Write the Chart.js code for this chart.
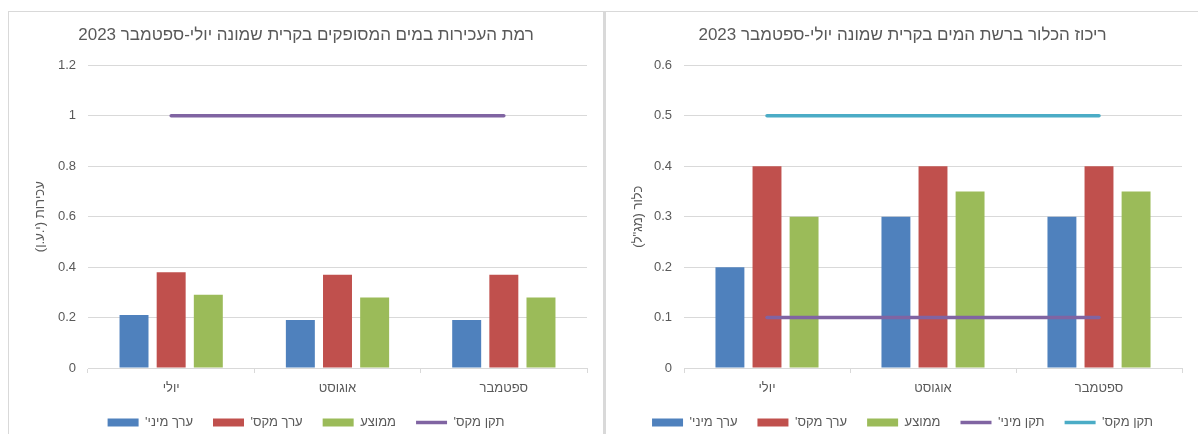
<!DOCTYPE html>
<html>
<head>
<meta charset="utf-8">
<script src="https://cdn.jsdelivr.net/npm/chart.js@4"></script>
<style>
  body { margin: 0; background: #fff; }
  .ln { position: absolute; background: #d9d9d9; }
  canvas { position: absolute; }
</style>
</head>
<body>
<div class="ln" style="left:8px;top:11px;width:1190px;height:1px"></div>
<div class="ln" style="left:8px;top:11px;width:1px;height:423px"></div>
<div class="ln" style="left:603px;top:11px;width:3px;height:423px"></div>
<canvas id="turb" dir="rtl" width="594" height="422" style="left:9px;top:12px"></canvas>
<canvas id="chl" dir="rtl" width="591" height="422" style="left:607px;top:12px"></canvas>
<script>
const months = ['יולי', 'אוגוסט', 'ספטמבר'];

// עכירות (י.ע.ן)
const turbMin = [0.21, 0.19, 0.19];
const turbMax = [0.38, 0.37, 0.37];
const turbAvg = [0.29, 0.28, 0.28];
const turbStdMax = [1, 1, 1];

// כלור (מג"ל)
const chlMin = [0.2, 0.3, 0.3];
const chlMax = [0.4, 0.4, 0.4];
const chlAvg = [0.3, 0.35, 0.35];
const chlStdMin = [0.1, 0.1, 0.1];
const chlStdMax = [0.5, 0.5, 0.5];

Chart.defaults.font.family = "'Liberation Sans', Arial, sans-serif";
Chart.defaults.font.size = 13;
Chart.defaults.color = '#595959';

const grid = '#d9d9d9';

function bar(label, data, color) {
  return {
    type: 'bar', label: label, data: data, backgroundColor: color,
    borderWidth: 0, pointStyle: 'rect', order: 1,
    categoryPercentage: 0.67, barPercentage: 0.78
  };
}

function line(label, data, color) {
  return {
    type: 'line', label: label, data: data, borderColor: color, backgroundColor: color,
    borderWidth: 3.5, borderCapStyle: 'round', pointRadius: 0, pointHoverRadius: 0,
    pointStyle: 'line', order: 0, fill: false
  };
}

function makeChart(id, title, yTitle, yMax, yStep, leftW, datasets) {
  new Chart(document.getElementById(id), {
    type: 'bar',
    data: { labels: months, datasets: datasets },
    options: {
      responsive: false,
      animation: false,
      devicePixelRatio: 1,
      layout: { padding: 0 },
      plugins: {
        title: {
          display: true, text: title,
          font: { size: 17, weight: 'normal' },
          padding: { top: 13, bottom: 20 }
        },
        legend: {
          position: 'bottom',
          maxHeight: 38,
          textDirection: 'rtl',
          labels: {
            usePointStyle: true, pointStyleWidth: 31, boxHeight: 8,
            padding: 20,
            sort: (a, b) => a.datasetIndex - b.datasetIndex
          }
        },
        tooltip: { enabled: false }
      },
      scales: {
        x: {
          grid: { color: grid, drawOnChartArea: false, tickLength: 5 },
          border: { color: grid },
          ticks: { padding: 8 },
          afterFit: s => { s.height = 28; }
        },
        y: {
          min: 0, max: yMax,
          ticks: { stepSize: yStep, padding: 12, callback: v => String(Math.round(v * 10) / 10) },
          grid: { color: grid, drawTicks: false },
          border: { display: false },
          title: { display: true, text: yTitle, padding: { top: 24, bottom: 0 } },
          afterFit: s => { s.width = leftW; }
        },
        y2: {
          position: 'right',
          grid: { display: false }, border: { display: false }, ticks: { display: false },
          afterFit: s => { s.width = 16; }
        }
      }
    }
  });
}

makeChart('turb', 'רמת העכירות במים המסופקים בקרית שמונה יולי-ספטמבר 2023', 'עכירות (י.ע.ן)', 1.2, 0.2, 79, [
  bar("ערך מיני'", turbMin, '#4F81BD'),
  bar("ערך מקס'", turbMax, '#C0504D'),
  bar('ממוצע', turbAvg, '#9BBB59'),
  line("תקן מקס'", turbStdMax, '#8064A2')
]);

makeChart('chl', 'ריכוז הכלור ברשת המים בקרית שמונה יולי-ספטמבר 2023', 'כלור (מג"ל)', 0.6, 0.1, 77, [
  bar("ערך מיני'", chlMin, '#4F81BD'),
  bar("ערך מקס'", chlMax, '#C0504D'),
  bar('ממוצע', chlAvg, '#9BBB59'),
  line("תקן מיני'", chlStdMin, '#8064A2'),
  line("תקן מקס'", chlStdMax, '#4BACC6')
]);
</script>
</body>
</html>
